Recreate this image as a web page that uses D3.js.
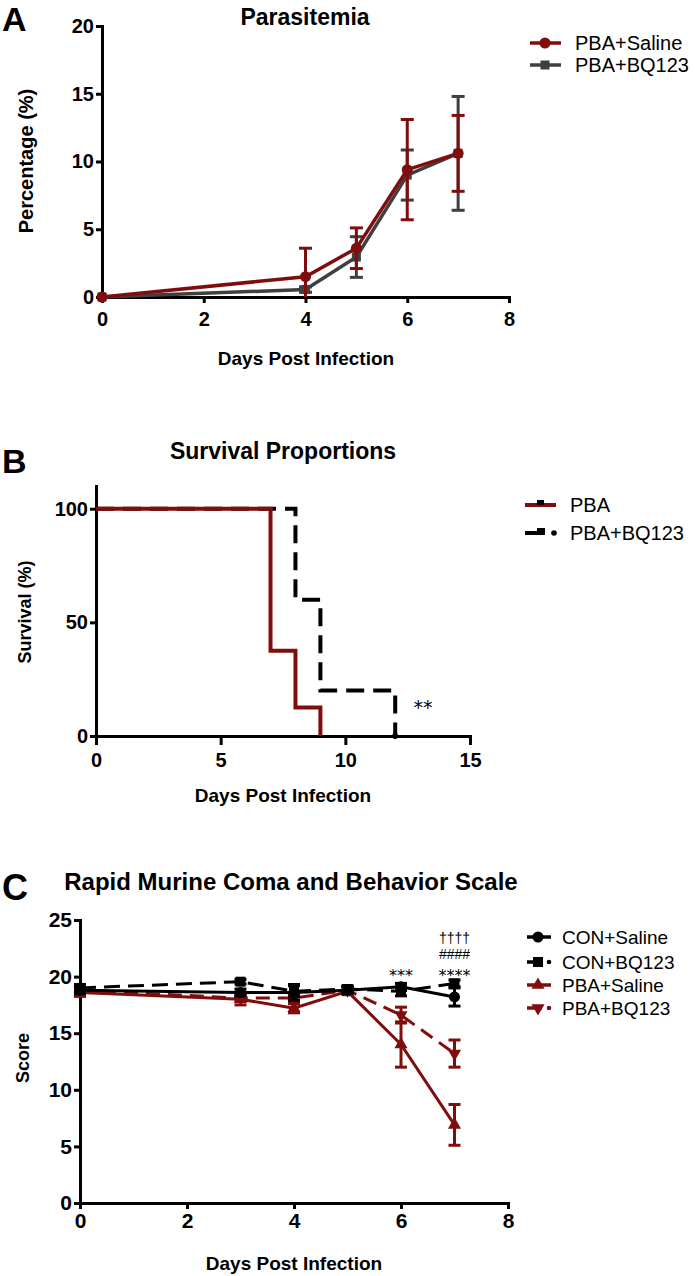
<!DOCTYPE html>
<html><head><meta charset="utf-8">
<script src="https://cdn.jsdelivr.net/npm/d3@7"></script>
<style>body{margin:0;background:#fff} text{font-family:"Liberation Sans",Arial,Helvetica,sans-serif}</style>
</head><body><svg id="c" width="695" height="1276"></svg>
<script>
// ---------- Panel A: Parasitemia ----------
const daysA = [0, 4, 5, 6, 7];
const paraSaline = [0, 1.5, 3.6, 9.4, 10.6];
const paraSalineErr = [0, 2.1, 1.5, 3.7, 2.8];
const paraBQ = [0, 0.55, 2.95, 9.0, 10.6];
const paraBQErr = [0, 0.2, 1.5, 1.85, 4.2];
const ticksAx = [0, 2, 4, 6, 8];
const ticksAy = [0, 5, 10, 15, 20];
const legendA = ["PBA+Saline", "PBA+BQ123"];
// ---------- Panel B: Survival ----------
const survTimePBA = [0, 7, 8, 9];
const survPBA = [100, 37.5, 12.5, 0];
const survTimeBQ = [0, 8, 9, 12];
const survBQ = [100, 60, 20, 0];
const ticksBx = [0, 5, 10, 15];
const ticksBy = [0, 50, 100];
const legendB = ["PBA", "PBA+BQ123"];
// ---------- Panel C: RMCBS ----------
const daysC = [0, 3, 4, 5, 6, 7];
const conSaline = [18.8, 18.6, 18.6, 18.8, 19.1, 18.2];
const conSalineErr = [0.3, 0.3, 0.7, 0.3, 0.3, 0.8];
const conBQ = [19.0, 19.55, 18.7, 18.9, 18.7, 19.4];
const conBQErr = [0.3, 0.2, 0.5, 0.3, 0.4, 0.3];
const pbaSaline = [18.6, 18.0, 17.2, 18.7, 14.0, 6.9];
const pbaSalineErr = [0.35, 0.5, 0.4, 0.3, 2.0, 1.8];
const pbaBQ = [18.8, 18.1, 18.1, 18.8, 16.6, 13.2];
const pbaBQErr = [0.3, 0.3, 0.3, 0.3, 0.7, 1.2];
const ticksCx = [0, 2, 4, 6, 8];
const ticksCy = [0, 5, 10, 15, 20, 25];
const legendC = ["CON+Saline", "CON+BQ123", "PBA+Saline", "PBA+BQ123"];

const RED = "#800d0d", GRAY = "#3f3f3f", BLACK = "#000";
const svg = d3.select("#c");
const FONT = '"Liberation Sans", Arial, Helvetica, sans-serif';

function styleAxis(g, fs) {
  g.select(".domain").attr("stroke", BLACK).attr("stroke-width", 3).attr("stroke-linecap", "square");
  g.selectAll(".tick line").attr("stroke", BLACK).attr("stroke-width", 3);
  g.selectAll(".tick text").attr("font-size", fs).attr("font-weight", "bold").attr("fill", BLACK).attr("font-family", FONT);
}
function text(x, y, s, opt) {
  const t = svg.append("text").attr("x", x).attr("y", y).text(s)
    .attr("font-size", opt.size).attr("font-weight", opt.bold ? "bold" : "normal")
    .attr("text-anchor", opt.anchor || "start").attr("fill", opt.fill || BLACK);
  if (opt.rotate) t.attr("transform", `rotate(-90,${x},${y})`);
  if (opt.ls) t.attr("letter-spacing", opt.ls);
  if (opt.family) t.style("font-family", opt.family);
  return t;
}
function errorBars(g, xs, ys, es, x, y, color, capW) {
  xs.forEach((d, i) => {
    if (!es[i]) return;
    const lo = Math.max(0, ys[i] - es[i]), hi = ys[i] + es[i];
    g.append("line").attr("x1", x(d)).attr("x2", x(d)).attr("y1", y(lo)).attr("y2", y(hi))
      .attr("stroke", color).attr("stroke-width", 3);
    g.append("line").attr("x1", x(d) - capW / 2).attr("x2", x(d) + capW / 2).attr("y1", y(hi)).attr("y2", y(hi))
      .attr("stroke", color).attr("stroke-width", 3);
    if (ys[i] - es[i] > 0)
      g.append("line").attr("x1", x(d) - capW / 2).attr("x2", x(d) + capW / 2).attr("y1", y(lo)).attr("y2", y(lo))
        .attr("stroke", color).attr("stroke-width", 3);
  });
}

// ================= Panel A =================
{
  const x = d3.scaleLinear().domain([0, 8]).range([102, 509]);
  const y = d3.scaleLinear().domain([0, 20]).range([297, 26]);
  const g = svg.append("g");
  g.append("g").attr("transform", "translate(0,297)")
    .call(d3.axisBottom(x).tickValues(ticksAx).tickSize(6).tickPadding(9).tickSizeOuter(0))
    .call(a => styleAxis(a, 20));
  g.append("g").attr("transform", "translate(102,0)")
    .call(d3.axisLeft(y).tickValues(ticksAy).tickSize(6).tickPadding(2).tickSizeOuter(0))
    .call(a => styleAxis(a, 20));
  const line = d3.line().x((d, i) => x(daysA[i])).y(d => y(d));
  errorBars(g, daysA, paraBQ, paraBQErr, x, y, GRAY, 13);
  g.append("path").attr("d", line(paraBQ)).attr("fill", "none").attr("stroke", GRAY).attr("stroke-width", 3.5);
  g.selectAll(".sq").data(paraBQ).enter().append("rect")
    .attr("x", (d, i) => x(daysA[i]) - 4.5).attr("y", d => y(d) - 4.5).attr("width", 9).attr("height", 9).attr("fill", GRAY);
  errorBars(g, daysA, paraSaline, paraSalineErr, x, y, RED, 13);
  g.append("path").attr("d", line(paraSaline)).attr("fill", "none").attr("stroke", RED).attr("stroke-width", 3.5);
  g.selectAll(".ci").data(paraSaline).enter().append("circle")
    .attr("cx", (d, i) => x(daysA[i])).attr("cy", d => y(d)).attr("r", 5.5).attr("fill", RED);

  text(2, 31, "A", { size: 34, bold: true });
  text(305, 25, "Parasitemia", { size: 23, bold: true, anchor: "middle" });
  text(33, 161, "Percentage (%)", { size: 20, bold: true, anchor: "middle", rotate: true });
  text(306, 365, "Days Post Infection", { size: 19, bold: true, anchor: "middle" });
  const ly = [43, 65], cols = [RED, GRAY];
  legendA.forEach((s, i) => {
    svg.append("line").attr("x1", 530).attr("x2", 561).attr("y1", ly[i]).attr("y2", ly[i]).attr("stroke", cols[i]).attr("stroke-width", 3.5);
    if (i === 0) svg.append("circle").attr("cx", 545).attr("cy", ly[i]).attr("r", 5.5).attr("fill", RED);
    else svg.append("rect").attr("x", 540.5).attr("y", ly[i] - 4.5).attr("width", 9).attr("height", 9).attr("fill", GRAY);
    text(575, ly[i] + 7, s, { size: 20 });
  });
}

// ================= Panel B =================
{
  const x = d3.scaleLinear().domain([0, 15]).range([96, 470]);
  const y = d3.scaleLinear().domain([0, 110]).range([736, 486]);
  const g = svg.append("g");
  g.append("g").attr("transform", "translate(0,736)")
    .call(d3.axisBottom(x).tickValues(ticksBx).tickSize(9).tickPadding(8).tickSizeOuter(0))
    .call(a => styleAxis(a, 20));
  g.append("g").attr("transform", "translate(96,0)")
    .call(d3.axisLeft(y).tickValues(ticksBy).tickSize(6).tickPadding(2).tickSizeOuter(0))
    .call(a => styleAxis(a, 20));
  const step = t => d3.line().x((d, i) => x(t[i])).y(d => y(d)).curve(d3.curveStepAfter);
  g.append("path").attr("d", step(survTimeBQ)(survBQ)).attr("fill", "none").attr("stroke", BLACK)
    .attr("stroke-width", 4).attr("stroke-dasharray", "18,9");
  g.append("circle").attr("cx", x(survTimeBQ[3])).attr("cy", y(survBQ[3])).attr("r", 3).attr("fill", BLACK);
  g.append("path").attr("d", step(survTimePBA)(survPBA)).attr("fill", "none").attr("stroke", RED).attr("stroke-width", 4);
  text(423, 714, "**", { size: 19, anchor: "middle", family: '"DejaVu Sans", sans-serif' });

  text(2, 473, "B", { size: 34, bold: true });
  text(283, 459, "Survival Proportions", { size: 23, bold: true, anchor: "middle" });
  text(31, 612, "Survival (%)", { size: 18, bold: true, anchor: "middle", rotate: true });
  text(283, 802, "Days Post Infection", { size: 19, bold: true, anchor: "middle" });
  svg.append("line").attr("x1", 525).attr("x2", 556).attr("y1", 505).attr("y2", 505).attr("stroke", RED).attr("stroke-width", 4);
  svg.append("rect").attr("x", 537).attr("y", 500).attr("width", 7).attr("height", 5).attr("fill", BLACK);
  text(570, 512, legendB[0], { size: 20 });
  svg.append("line").attr("x1", 525).attr("x2", 545).attr("y1", 533).attr("y2", 533).attr("stroke", BLACK).attr("stroke-width", 4);
  svg.append("rect").attr("x", 537).attr("y", 528).attr("width", 8).attr("height", 5).attr("fill", BLACK);
  svg.append("circle").attr("cx", 554).attr("cy", 533).attr("r", 2.8).attr("fill", BLACK);
  text(570, 540, legendB[1], { size: 20 });
}

// ================= Panel C =================
{
  const x = d3.scaleLinear().domain([0, 8]).range([80, 508]);
  const y = d3.scaleLinear().domain([0, 25]).range([1203, 920]);
  const g = svg.append("g");
  g.append("g").attr("transform", "translate(0,1203)")
    .call(d3.axisBottom(x).tickValues(ticksCx).tickSize(6).tickPadding(4).tickSizeOuter(0))
    .call(a => styleAxis(a, 21));
  g.append("g").attr("transform", "translate(80,0)")
    .call(d3.axisLeft(y).tickValues(ticksCy).tickSize(6).tickPadding(2).tickSizeOuter(0))
    .call(a => styleAxis(a, 21));
  const line = d3.line().x((d, i) => x(daysC[i])).y(d => y(d));
  const series = [
    { v: pbaBQ, e: pbaBQErr, c: RED, dash: "14,8", sym: "tdown" },
    { v: pbaSaline, e: pbaSalineErr, c: RED, dash: null, sym: "tup" },
    { v: conBQ, e: conBQErr, c: BLACK, dash: "16,8", sym: "sq" },
    { v: conSaline, e: conSalineErr, c: BLACK, dash: null, sym: "ci" }
  ];
  function marker(gg, sym, cx, cy, c) {
    if (sym === "ci") gg.append("circle").attr("cx", cx).attr("cy", cy).attr("r", 5.5).attr("fill", c);
    else if (sym === "sq") gg.append("rect").attr("x", cx - 5).attr("y", cy - 5).attr("width", 10).attr("height", 10).attr("fill", c);
    else {
      const p = d3.symbol().type(d3.symbolTriangle).size(75)();
      gg.append("path").attr("d", p).attr("fill", c)
        .attr("transform", `translate(${cx},${cy})` + (sym === "tdown" ? " rotate(180)" : ""));
    }
  }
  series.forEach(s => {
    errorBars(g, daysC, s.v, s.e, x, y, s.c, 12);
    const p = g.append("path").attr("d", line(s.v)).attr("fill", "none").attr("stroke", s.c).attr("stroke-width", 3);
    if (s.dash) p.attr("stroke-dasharray", s.dash);
    s.v.forEach((d, i) => marker(g, s.sym, x(daysC[i]), y(d), s.c));
  });
  const DJ = '"DejaVu Sans", sans-serif';
  text(x(6), 981, "***", { size: 16, anchor: "middle", family: DJ });
  text(x(7), 981, "****", { size: 16, anchor: "middle", family: DJ });
  text(x(7), 959, "####", { size: 14, anchor: "middle" });
  text(x(7), 943, "††††", { size: 14, anchor: "middle" });

  text(2, 900, "C", { size: 36, bold: true });
  text(291, 890, "Rapid Murine Coma and Behavior Scale", { size: 24, bold: true, anchor: "middle" });
  text(29, 1058, "Score", { size: 18, bold: true, anchor: "middle", rotate: true });
  text(294, 1270, "Days Post Infection", { size: 19, bold: true, anchor: "middle" });
  const ly = [937, 962, 985, 1008];
  const lc = [BLACK, BLACK, RED, RED], ls = ["ci", "sq", "tup", "tdown"], ld = [false, true, false, true];
  legendC.forEach((s, i) => {
    if (ld[i]) {
      svg.append("line").attr("x1", 527).attr("x2", 542).attr("y1", ly[i]).attr("y2", ly[i]).attr("stroke", lc[i]).attr("stroke-width", 3.5);
      svg.append("circle").attr("cx", 549).attr("cy", ly[i]).attr("r", 2.3).attr("fill", lc[i]);
    } else {
      svg.append("line").attr("x1", 527).attr("x2", 551).attr("y1", ly[i]).attr("y2", ly[i]).attr("stroke", lc[i]).attr("stroke-width", 3.5);
    }
    marker(svg, ls[i], 538, ly[i], lc[i]);
    text(562, ly[i] + 7, s, { size: 19 });
  });
}
</script></body></html>
